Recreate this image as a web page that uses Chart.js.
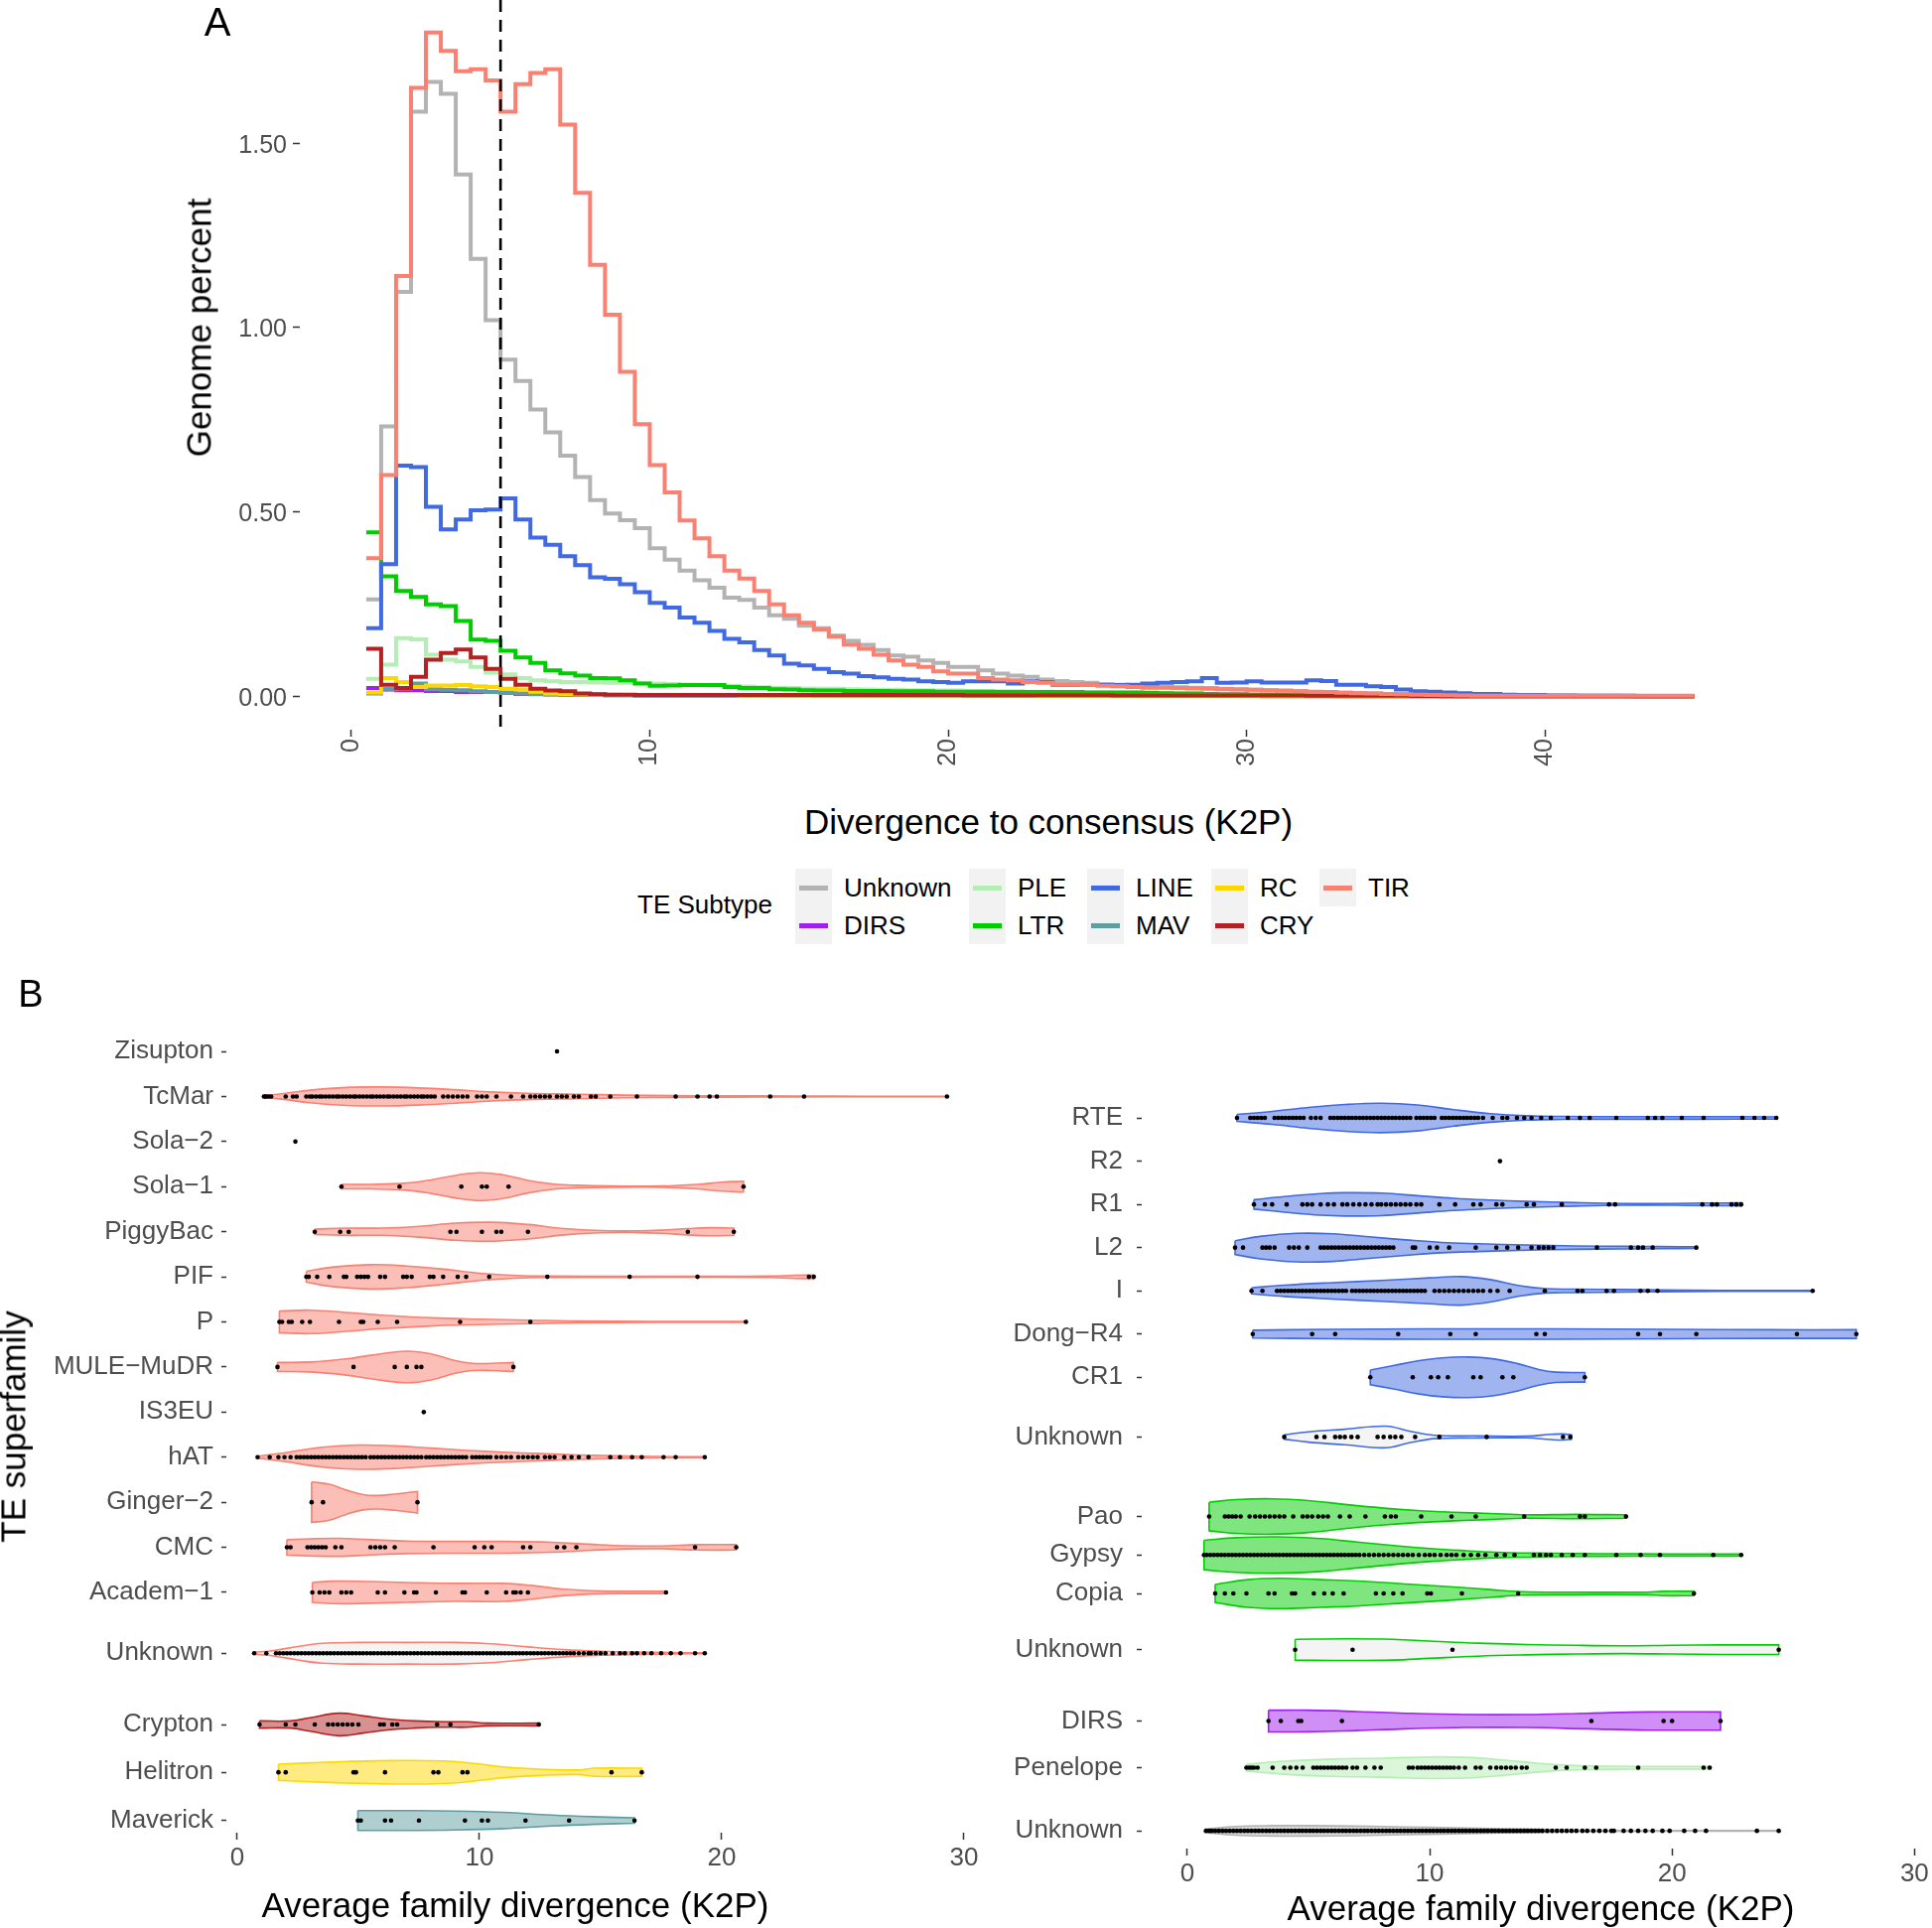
<!DOCTYPE html>
<html>
<head>
<meta charset="utf-8">
<script src="https://cdn.jsdelivr.net/npm/chart.js@4.4.1/dist/chart.umd.min.js"></script>
<style>
  html, body { margin: 0; padding: 0; background: #fff; overflow: hidden; }
  body { width: 1946px; height: 1942px; position: relative; font-family: "Liberation Sans", Arial, Helvetica, sans-serif; }
  canvas { position: absolute; }
  .txt { position: absolute; white-space: nowrap; line-height: 1; color: #000; transform: translate(-50%, -50%); }
  .rot { transform: translate(-50%, -50%) rotate(-90deg); }
  .key { position: absolute; width: 37px; height: 38px; background: #f2f2f2; }
  .key span { position: absolute; left: 4px; right: 4px; top: 16.5px; height: 5px; }
  .keylab { position: absolute; font-size: 26px; line-height: 1; color: #000; transform: translateY(-50%); white-space: nowrap; }
</style>
</head>
<body>
<canvas id="histChart" width="1946" height="820" style="left:0;top:-30px"></canvas>
<canvas id="leftChart" width="1000" height="952" style="left:0;top:990px"></canvas>
<canvas id="rightChart" width="1000" height="882" style="left:1000px;top:1060px"></canvas>

<div class="txt" style="left:219px;top:22px;font-size:40px">A</div>
<div class="txt rot" style="left:200px;top:330px;font-size:35px">Genome percent</div>
<div class="txt" style="left:1056px;top:827px;font-size:35px">Divergence to consensus (K2P)</div>
<div class="txt" style="left:710px;top:911px;font-size:26px">TE Subtype</div>
<div id="legend"></div>
<div class="txt" style="left:31px;top:1001px;font-size:38px">B</div>
<div class="txt rot" style="left:13px;top:1437px;font-size:35px">TE superfamily</div>
<div class="txt" style="left:519px;top:1918px;font-size:35px">Average family divergence (K2P)</div>
<div class="txt" style="left:1552px;top:1921px;font-size:35px">Average family divergence (K2P)</div>

<script>
// ---------- panel A: repeat landscape (genome percent per 0.5 K2P bin) ----------
const subtypes = ['Unknown', 'DIRS', 'PLE', 'LTR', 'LINE', 'MAV', 'RC', 'CRY', 'TIR'];
const subtypeColors = ['#b3b3b3', '#a020f0', '#b4eeb4', '#00cd00', '#4169e1', '#5f9ea0', '#ffd700', '#b22222', '#fa8072'];
const histXTicks = [0, 10, 20, 30, 40];
const histYTicks = [0, 0.5, 1, 1.5];
const divergenceCutoff = 5;
const bins = Array.from({ length: 90 }, (_, i) => (i + 1) * 0.5);

const unknownPct = [
  0.263, 0.732, 1.097, 1.585, 1.666, 1.634, 1.415, 1.186, 1.020, 0.913,
  0.855, 0.778, 0.716, 0.653, 0.595, 0.532, 0.496, 0.478, 0.456, 0.402,
  0.371, 0.341, 0.315, 0.295, 0.268, 0.262, 0.241, 0.220, 0.211, 0.192,
  0.185, 0.165, 0.151, 0.140, 0.126, 0.111, 0.108, 0.098, 0.091, 0.080,
  0.080, 0.071, 0.062, 0.057, 0.053, 0.046, 0.042, 0.039, 0.037, 0.034,
  0.032, 0.030, 0.028, 0.026, 0.025, 0.024, 0.023, 0.021, 0.020, 0.018,
  0.016, 0.015, 0.014, 0.012, 0.011, 0.010, 0.009, 0.008, 0.007, 0.006,
  0.005, 0.004, 0.004, 0.003, 0.002, 0.002, 0.002, 0.002, 0.002, 0.002,
  0.002, 0.002, 0.002, 0.002, 0.001, 0.001, 0.001, 0.001, 0.001, 0.001
];
const dirsPct = [
  0.023, 0.019, 0.017, 0.017, 0.015, 0.015, 0.012, 0.012, 0.012, 0.010,
  0.007, 0.007, 0.007, 0.007, 0.005, 0.005, 0.004, 0.004, 0.003, 0.003,
  0.003, 0.003, 0.003, 0.003, 0.003, 0.003, 0.003, 0.003, 0.003, 0.003,
  0.002, 0.002, 0.002, 0.002, 0.002, 0.002, 0.002, 0.002, 0.002, 0.002,
  0.002, 0.002, 0.002, 0.002, 0.002, 0.002, 0.002, 0.002, 0.002, 0.002,
  0.002, 0.002, 0.002, 0.002, 0.002, 0.002, 0.002, 0.002, 0.002, 0.002,
  0.001, 0.001, 0.001, 0.001, 0.001, 0.001, 0.001, 0.001, 0.001, 0.001,
  0.001, 0.001, 0.001, 0.001, 0.001, 0.001, 0.001, 0.001, 0.001, 0.001,
  0.001, 0.001, 0.001, 0.001, 0.001, 0.001, 0.001, 0.001, 0.001, 0.001
];
const plePct = [
  0.048, 0.086, 0.158, 0.155, 0.113, 0.100, 0.095, 0.080, 0.065, 0.060,
  0.050, 0.044, 0.041, 0.039, 0.039, 0.038, 0.037, 0.037, 0.036, 0.035,
  0.034, 0.032, 0.031, 0.030, 0.029, 0.027, 0.025, 0.024, 0.023, 0.022,
  0.021, 0.021, 0.020, 0.019, 0.018, 0.018, 0.017, 0.017, 0.016, 0.016,
  0.015, 0.015, 0.014, 0.014, 0.013, 0.013, 0.012, 0.012, 0.011, 0.011,
  0.010, 0.010, 0.009, 0.009, 0.008, 0.008, 0.007, 0.007, 0.006, 0.006,
  0.005, 0.005, 0.005, 0.004, 0.004, 0.004, 0.003, 0.003, 0.003, 0.003,
  0.002, 0.002, 0.002, 0.002, 0.002, 0.002, 0.002, 0.002, 0.002, 0.002,
  0.001, 0.001, 0.001, 0.001, 0.001, 0.001, 0.001, 0.001, 0.001, 0.001
];
const ltrPct = [
  0.445, 0.326, 0.286, 0.270, 0.250, 0.245, 0.205, 0.154, 0.151, 0.124,
  0.106, 0.091, 0.071, 0.063, 0.057, 0.050, 0.049, 0.044, 0.035, 0.029,
  0.030, 0.031, 0.031, 0.031, 0.026, 0.023, 0.023, 0.020, 0.019, 0.017,
  0.016, 0.016, 0.015, 0.015, 0.015, 0.014, 0.014, 0.014, 0.013, 0.013,
  0.013, 0.013, 0.012, 0.012, 0.012, 0.012, 0.012, 0.012, 0.011, 0.011,
  0.011, 0.011, 0.010, 0.009, 0.008, 0.008, 0.007, 0.006, 0.006, 0.005,
  0.005, 0.004, 0.004, 0.003, 0.003, 0.003, 0.002, 0.002, 0.002, 0.002,
  0.002, 0.002, 0.002, 0.001, 0.001, 0.001, 0.001, 0.001, 0.001, 0.001,
  0.001, 0.001, 0.001, 0.001, 0.001, 0.001, 0.001, 0.001, 0.001, 0.001
];
const linePct = [
  0.185, 0.359, 0.626, 0.622, 0.514, 0.453, 0.480, 0.505, 0.507, 0.537,
  0.480, 0.431, 0.411, 0.380, 0.356, 0.323, 0.319, 0.304, 0.283, 0.254,
  0.241, 0.214, 0.200, 0.178, 0.156, 0.147, 0.126, 0.111, 0.089, 0.084,
  0.075, 0.066, 0.062, 0.055, 0.052, 0.048, 0.046, 0.041, 0.039, 0.037,
  0.041, 0.041, 0.041, 0.035, 0.041, 0.039, 0.031, 0.031, 0.032, 0.031,
  0.031, 0.032, 0.035, 0.037, 0.039, 0.041, 0.050, 0.037, 0.038, 0.041,
  0.038, 0.038, 0.038, 0.044, 0.042, 0.032, 0.032, 0.028, 0.026, 0.019,
  0.014, 0.013, 0.011, 0.009, 0.007, 0.007, 0.005, 0.004, 0.004, 0.003,
  0.003, 0.002, 0.002, 0.002, 0.002, 0.001, 0.001, 0.001, 0.001, 0.001
];
const mavPct = [
  0.008, 0.020, 0.022, 0.035, 0.020, 0.018, 0.017, 0.014, 0.012, 0.010,
  0.008, 0.006, 0.005, 0.004, 0.004, 0.004, 0.003, 0.003, 0.003, 0.003,
  0.003, 0.003, 0.003, 0.003, 0.003, 0.003, 0.003, 0.003, 0.003, 0.003,
  0.002, 0.002, 0.002, 0.002, 0.002, 0.002, 0.002, 0.002, 0.002, 0.002,
  0.002, 0.002, 0.002, 0.002, 0.002, 0.002, 0.002, 0.002, 0.002, 0.002,
  0.002, 0.002, 0.002, 0.002, 0.002, 0.002, 0.002, 0.002, 0.002, 0.002,
  0.002, 0.002, 0.002, 0.002, 0.002, 0.001, 0.001, 0.001, 0.001, 0.001,
  0.001, 0.001, 0.001, 0.001, 0.001, 0.001, 0.001, 0.001, 0.001, 0.001,
  0.001, 0.001, 0.001, 0.001, 0.001, 0.001, 0.001, 0.001, 0.001, 0.001
];
const rcPct = [
  0.011, 0.050, 0.039, 0.026, 0.030, 0.030, 0.031, 0.028, 0.026, 0.021,
  0.019, 0.013, 0.008, 0.007, 0.006, 0.005, 0.005, 0.004, 0.004, 0.004,
  0.004, 0.004, 0.004, 0.004, 0.004, 0.003, 0.003, 0.003, 0.003, 0.003,
  0.003, 0.003, 0.003, 0.003, 0.003, 0.003, 0.003, 0.003, 0.003, 0.003,
  0.003, 0.003, 0.003, 0.003, 0.003, 0.002, 0.002, 0.002, 0.002, 0.002,
  0.002, 0.002, 0.002, 0.002, 0.002, 0.002, 0.002, 0.002, 0.002, 0.002,
  0.002, 0.002, 0.002, 0.002, 0.002, 0.001, 0.001, 0.001, 0.001, 0.001,
  0.001, 0.001, 0.001, 0.001, 0.001, 0.001, 0.001, 0.001, 0.001, 0.001,
  0.001, 0.001, 0.001, 0.001, 0.001, 0.001, 0.001, 0.001, 0.001, 0.001
];
const cryPct = [
  0.129, 0.032, 0.023, 0.053, 0.100, 0.118, 0.127, 0.106, 0.075, 0.048,
  0.032, 0.021, 0.016, 0.014, 0.008, 0.006, 0.005, 0.005, 0.004, 0.004,
  0.004, 0.004, 0.004, 0.004, 0.004, 0.004, 0.004, 0.004, 0.004, 0.004,
  0.004, 0.004, 0.004, 0.004, 0.004, 0.004, 0.004, 0.004, 0.004, 0.004,
  0.0035, 0.0035, 0.0035, 0.0035, 0.0035, 0.0035, 0.0035, 0.0035, 0.0035, 0.0035,
  0.003, 0.003, 0.003, 0.003, 0.003, 0.003, 0.003, 0.003, 0.003, 0.003,
  0.003, 0.003, 0.003, 0.0025, 0.0025, 0.002, 0.002, 0.002, 0.002, 0.002,
  0.0015, 0.0015, 0.001, 0.001, 0.001, 0.001, 0.001, 0.001, 0.001, 0.001,
  0.001, 0.001, 0.001, 0.001, 0.001, 0.001, 0.001, 0.001, 0.001, 0.001
];
const tirPct = [
  0.375, 0.600, 1.140, 1.650, 1.800, 1.750, 1.695, 1.700, 1.670, 1.585,
  1.660, 1.690, 1.700, 1.550, 1.365, 1.170, 1.035, 0.880, 0.738, 0.627,
  0.553, 0.477, 0.429, 0.380, 0.341, 0.320, 0.286, 0.250, 0.220, 0.200,
  0.181, 0.162, 0.141, 0.129, 0.113, 0.098, 0.086, 0.080, 0.068, 0.062,
  0.062, 0.050, 0.046, 0.044, 0.039, 0.037, 0.032, 0.032, 0.031, 0.029,
  0.028, 0.026, 0.024, 0.024, 0.023, 0.022, 0.021, 0.020, 0.019, 0.018,
  0.017, 0.016, 0.014, 0.013, 0.012, 0.010, 0.009, 0.008, 0.007, 0.006,
  0.005, 0.004, 0.0035, 0.003, 0.002, 0.002, 0.002, 0.002, 0.002, 0.002,
  0.002, 0.002, 0.002, 0.002, 0.002, 0.002, 0.002, 0.002, 0.002, 0.002
];
const histSeries = [unknownPct, dirsPct, plePct, ltrPct, linePct, mavPct, rcPct, cryPct, tirPct];

// ---------- panel B: average family divergence per superfamily ----------
const leftNames = ['Zisupton', 'TcMar', 'Sola−2', 'Sola−1', 'PiggyBac', 'PIF', 'P', 'MULE−MuDR', 'IS3EU',
  'hAT', 'Ginger−2', 'CMC', 'Academ−1', 'Unknown', 'Crypton', 'Helitron', 'Maverick'];
const leftClass = ['TIR', 'TIR', 'TIR', 'TIR', 'TIR', 'TIR', 'TIR', 'TIR', 'TIR', 'TIR', 'TIR', 'TIR', 'TIR',
  'TIR', 'CRY', 'RC', 'MAV'];
const leftDots = [
  [13.2],
  [1.1, 1.15, 1.2, 1.3, 1.4, 2.0, 2.3, 2.45, 2.85, 3.0, 3.1, 3.25, 3.4, 3.5, 3.65, 3.8, 3.95, 4.1, 4.2, 4.35,
   4.5, 4.65, 4.8, 4.9, 5.05, 5.2, 5.35, 5.5, 5.6, 5.75, 5.9, 6.05, 6.2, 6.3, 6.45, 6.6, 6.75, 6.9, 7.0, 7.15,
   7.3, 7.45, 7.6, 7.7, 7.85, 8.0, 8.15, 8.5, 8.7, 8.9, 9.1, 9.3, 9.5, 9.9, 10.1, 10.3, 10.7, 11.3, 11.8,
   12.1, 12.3, 12.5, 12.7, 12.9, 13.2, 13.4, 13.6, 13.9, 14.1, 14.6, 14.8, 15.4, 16.5, 18.1, 19.0, 19.5,
   19.8, 22.0, 23.4, 29.3],
  [2.4],
  [4.3, 6.7, 9.25, 10.1, 10.3, 11.2, 20.9],
  [3.2, 4.25, 4.6, 8.8, 9.05, 10.1, 10.7, 10.9, 12.0, 18.6, 20.5],
  [2.85, 2.95, 3.3, 3.8, 4.4, 4.5, 4.95, 5.1, 5.25, 5.4, 5.9, 6.1, 6.85, 7.0, 7.2, 7.95, 8.1, 8.5, 9.1, 9.45,
   10.4, 12.8, 16.2, 19.0, 23.6, 23.8],
  [1.74, 1.85, 2.13, 2.25, 2.68, 3.0, 4.2, 5.1, 5.2, 5.8, 6.6, 9.2, 12.1, 21.0],
  [1.66, 4.8, 6.5, 7.0, 7.4, 7.6, 11.4],
  [7.7],
  [0.84, 1.34, 1.7, 1.95, 2.2, 2.45, 2.6, 2.75, 2.9, 3.05, 3.2, 3.35, 3.5, 3.65, 3.8, 3.95, 4.1, 4.25, 4.4,
   4.55, 4.7, 4.85, 5.0, 5.15, 5.3, 5.5, 5.65, 5.8, 5.95, 6.1, 6.25, 6.4, 6.55, 6.7, 6.85, 7.0, 7.15, 7.3,
   7.45, 7.6, 7.8, 7.95, 8.1, 8.25, 8.4, 8.55, 8.7, 8.85, 9.0, 9.15, 9.3, 9.45, 9.7, 9.85, 10.0, 10.15,
   10.3, 10.45, 10.7, 10.9, 11.1, 11.3, 11.6, 11.8, 12.0, 12.2, 12.4, 12.7, 12.9, 13.1, 13.5, 13.8, 14.1,
   14.5, 15.4, 15.8, 16.3, 16.7, 17.6, 18.1, 19.3],
  [3.07, 3.54, 7.44],
  [2.05, 2.2, 2.9, 3.05, 3.2, 3.35, 3.5, 3.65, 4.05, 4.3, 5.5, 5.7, 5.9, 6.1, 6.5, 8.1, 9.8, 10.2, 10.5,
   11.8, 12.1, 13.2, 13.5, 14.0, 18.9, 20.6],
  [3.1, 3.4, 3.6, 3.8, 4.3, 4.5, 4.7, 5.8, 6.1, 6.9, 7.3, 7.4, 8.2, 9.3, 9.4, 10.3, 11.1, 11.4, 11.5, 11.7,
   12.0, 17.7],
  [0.7, 1.2, 1.6, 1.75, 1.9, 2.05, 2.2, 2.35, 2.5, 2.65, 2.8, 2.95, 3.1, 3.25, 3.4, 3.55, 3.7, 3.85, 4.0,
   4.15, 4.3, 4.45, 4.6, 4.75, 4.9, 5.05, 5.2, 5.35, 5.5, 5.65, 5.8, 5.95, 6.1, 6.25, 6.4, 6.55, 6.7, 6.85,
   7.0, 7.15, 7.3, 7.45, 7.6, 7.75, 7.9, 8.05, 8.2, 8.35, 8.5, 8.65, 8.8, 8.95, 9.1, 9.25, 9.4, 9.55, 9.7,
   9.85, 10.0, 10.15, 10.3, 10.45, 10.6, 10.75, 10.9, 11.05, 11.2, 11.35, 11.5, 11.65, 11.8, 11.95, 12.1,
   12.25, 12.4, 12.55, 12.7, 12.85, 13.0, 13.15, 13.3, 13.45, 13.6, 13.75, 13.9, 14.1, 14.3, 14.5, 14.6,
   14.8, 15.0, 15.2, 15.5, 15.8, 16.0, 16.3, 16.5, 16.8, 17.1, 17.5, 17.9, 18.3, 18.9, 19.3],
  [0.92, 2.0, 2.4, 3.2, 3.75, 3.95, 4.15, 4.35, 4.55, 4.75, 5.0, 5.9, 6.05, 6.4, 6.6, 8.25, 8.8, 12.45],
  [1.7, 2.0, 4.8, 4.9, 6.1, 8.1, 8.3, 9.3, 9.5, 15.45, 16.7],
  [4.98, 5.1, 6.1, 6.35, 7.5, 9.4, 10.1, 10.35, 11.9, 13.7, 16.4]
];
// violin outlines: [divergence, half width in rows]
const leftViolins = [
  [],
  [[1.1, 0.02], [2, 0.07], [3, 0.14], [4.5, 0.2], [6, 0.21], [7.5, 0.19], [9, 0.15], [10.5, 0.1], [12, 0.07],
   [14, 0.05], [16, 0.03], [18, 0.02], [20, 0.015], [23, 0.01], [26, 0.006], [29.3, 0.006]],
  [],
  [[4.3, 0.05], [5.5, 0.05], [7, 0.08], [8, 0.15], [9, 0.25], [10, 0.31], [11, 0.26], [12, 0.14], [13, 0.06],
   [14, 0.03], [15.5, 0.015], [17.5, 0.015], [19, 0.05], [20, 0.1], [20.9, 0.12]],
  [[3.2, 0.06], [4.5, 0.08], [6, 0.08], [7.5, 0.12], [9, 0.19], [10.5, 0.21], [12, 0.16], [13.5, 0.07],
   [15, 0.025], [16.5, 0.02], [17.5, 0.035], [18.6, 0.07], [19.5, 0.09], [20.5, 0.08]],
  [[2.85, 0.12], [4, 0.22], [5.5, 0.27], [7, 0.24], [8.5, 0.17], [10, 0.08], [11.5, 0.03], [13, 0.015],
   [16, 0.012], [19, 0.01], [22, 0.015], [23, 0.035], [23.8, 0.04]],
  [[1.74, 0.24], [3, 0.26], [4.5, 0.21], [6, 0.15], [8, 0.09], [10, 0.06], [12, 0.04], [14, 0.02],
   [17, 0.012], [19.5, 0.01], [21, 0.012]],
  [[1.66, 0.1], [3, 0.11], [4.5, 0.18], [5.5, 0.26], [7, 0.35], [8, 0.29], [9, 0.14], [9.7, 0.08],
   [10.5, 0.08], [11.4, 0.1]],
  [],
  [[0.84, 0.02], [2, 0.1], [3.5, 0.22], [5, 0.27], [6.5, 0.25], [8, 0.2], [9.5, 0.15], [11, 0.11],
   [12.5, 0.08], [14, 0.05], [16, 0.025], [18, 0.012], [19.3, 0.008]],
  [[3.07, 0.45], [3.8, 0.4], [4.5, 0.27], [5.2, 0.17], [5.8, 0.15], [6.5, 0.18], [7.44, 0.24]],
  [[2.05, 0.17], [3, 0.19], [4.2, 0.2], [5.5, 0.17], [7, 0.14], [9, 0.13], [11, 0.13], [13, 0.11],
   [14.5, 0.07], [16, 0.035], [17.5, 0.03], [19, 0.06], [20.6, 0.06]],
  [[3.1, 0.22], [4, 0.25], [5.5, 0.24], [7, 0.22], [9, 0.2], [11, 0.2], [12.2, 0.15], [13.5, 0.07],
   [15, 0.03], [16.5, 0.025], [17.7, 0.025]],
  [[0.7, 0.02], [1.5, 0.06], [2.5, 0.15], [3.5, 0.22], [5, 0.24], [7, 0.24], [9, 0.24], [10.5, 0.21],
   [12, 0.14], [13.5, 0.08], [15, 0.045], [16.5, 0.025], [18, 0.015], [19.3, 0.01]],
  [[0.92, 0.08], [2.2, 0.08], [3, 0.15], [4.2, 0.25], [5.2, 0.19], [6.2, 0.12], [7.3, 0.08], [8.5, 0.06],
   [9.5, 0.06], [10.3, 0.03], [12.45, 0.03]],
  [[1.7, 0.18], [3, 0.21], [4.5, 0.24], [6.5, 0.26], [8.5, 0.25], [9.7, 0.2], [11, 0.12], [12.5, 0.07],
   [14, 0.05], [14.8, 0.09], [16.7, 0.09]],
  [[4.98, 0.22], [7, 0.22], [9, 0.21], [11, 0.18], [13, 0.12], [15, 0.08], [16.4, 0.06]]
];

const rightNames = ['RTE', 'R2', 'R1', 'L2', 'I', 'Dong−R4', 'CR1', 'Unknown', 'Pao', 'Gypsy', 'Copia',
  'Unknown', 'DIRS', 'Penelope', 'Unknown'];
const rightClass = ['LINE', 'LINE', 'LINE', 'LINE', 'LINE', 'LINE', 'LINE', 'LINE', 'LTR', 'LTR', 'LTR',
  'LTR', 'DIRS', 'PLE', 'Unknown'];
const rightDots = [
  [2.05, 2.6, 2.75, 2.9, 3.05, 3.2, 3.6, 3.75, 3.9, 4.05, 4.2, 4.35, 4.5, 4.65, 4.8, 5.1, 5.3, 5.5, 5.9,
   6.05, 6.2, 6.35, 6.5, 6.65, 6.8, 6.95, 7.1, 7.25, 7.4, 7.55, 7.7, 7.85, 8.0, 8.15, 8.3, 8.45, 8.6, 8.75,
   8.9, 9.05, 9.2, 9.45, 9.6, 9.75, 9.9, 10.05, 10.2, 10.5, 10.65, 10.8, 10.95, 11.1, 11.25, 11.4, 11.55,
   11.7, 11.85, 12.0, 12.2, 12.6, 13.0, 13.2, 13.6, 13.9, 14.2, 14.6, 15.0, 15.7, 16.2, 16.6, 17.7, 19.0,
   19.3, 19.6, 20.4, 21.3, 22.9, 23.4, 23.8, 24.3],
  [12.9],
  [2.75, 3.2, 3.5, 4.1, 4.75, 4.95, 5.15, 5.5, 5.8, 6.05, 6.4, 6.6, 6.85, 7.1, 7.35, 7.6, 7.85, 8.0, 8.2,
   8.4, 8.6, 8.8, 9.0, 9.2, 9.45, 9.65, 10.4, 11.05, 11.8, 12.1, 12.75, 13.0, 14.0, 14.3, 15.45, 17.4,
   17.65, 21.25, 21.65, 21.85, 22.45, 22.65, 22.85],
  [1.97, 2.3, 3.1, 3.25, 3.4, 3.6, 4.2, 4.4, 4.6, 4.95, 5.5, 5.65, 5.8, 5.95, 6.1, 6.25, 6.4, 6.55, 6.7,
   6.85, 7.0, 7.15, 7.3, 7.45, 7.6, 7.75, 7.9, 8.05, 8.2, 8.35, 8.5, 9.3, 9.4, 10.0, 10.3, 10.8, 11.9,
   12.75, 13.2, 13.65, 14.2, 14.5, 14.7, 14.9, 15.1, 16.9, 18.3, 18.6, 18.8, 19.2, 21.0],
  [2.65, 3.1, 3.7, 3.85, 4.0, 4.15, 4.3, 4.45, 4.6, 4.75, 4.9, 5.05, 5.2, 5.35, 5.5, 5.65, 5.8, 5.95, 6.1,
   6.25, 6.4, 6.55, 6.8, 6.95, 7.1, 7.25, 7.4, 7.55, 7.7, 7.85, 8.0, 8.15, 8.3, 8.45, 8.6, 8.75, 8.9, 9.05,
   9.2, 9.35, 9.5, 9.65, 9.8, 10.2, 10.4, 10.6, 10.8, 11.0, 11.2, 11.4, 11.6, 11.8, 12.0, 12.2, 12.5,
   12.8, 13.3, 14.75, 16.1, 16.3, 17.3, 17.6, 18.7, 19.0, 19.4, 25.8],
  [2.7, 5.15, 6.1, 8.7, 10.85, 11.9, 14.4, 14.75, 18.6, 19.5, 21.0, 25.15, 27.6],
  [7.55, 9.3, 10.05, 10.35, 10.75, 11.8, 12.1, 13.0, 13.45, 16.4],
  [4.0, 5.33, 5.66, 6.1, 6.3, 6.5, 6.77, 7.03, 7.85, 8.1, 8.37, 8.58, 8.83, 9.4, 10.4, 12.35, 15.5, 15.8],
  [0.9, 1.55, 1.7, 1.85, 2.0, 2.2, 2.57, 2.8, 3.0, 3.2, 3.4, 3.6, 3.8, 4.0, 4.37, 4.76, 4.95, 5.15, 5.4,
   5.6, 5.8, 6.3, 6.7, 7.35, 8.15, 8.4, 8.6, 9.65, 10.9, 11.9, 13.9, 16.2, 16.4, 18.1],
  [0.69, 0.8, 0.95, 1.1, 1.25, 1.4, 1.55, 1.7, 1.85, 2.0, 2.15, 2.3, 2.45, 2.6, 2.75, 2.9, 3.05, 3.2, 3.35,
   3.5, 3.65, 3.8, 3.95, 4.1, 4.25, 4.4, 4.55, 4.7, 4.85, 5.0, 5.15, 5.3, 5.45, 5.6, 5.75, 5.9, 6.05, 6.2,
   6.35, 6.5, 6.65, 6.8, 6.95, 7.1, 7.3, 7.5, 7.7, 7.9, 8.1, 8.3, 8.5, 8.7, 8.9, 9.1, 9.3, 9.55, 9.8,
   10.0, 10.2, 10.45, 10.7, 10.9, 11.1, 11.4, 11.7, 12.0, 12.3, 12.75, 13.1, 13.5, 14.3, 14.55, 14.8,
   15.0, 15.45, 15.9, 16.4, 17.7, 18.7, 19.5, 21.7, 22.85],
  [1.15, 1.55, 1.9, 2.44, 3.35, 3.6, 4.32, 4.45, 5.22, 5.65, 6.0, 6.45, 7.78, 8.1, 8.5, 8.88, 9.9, 10.05,
   11.33, 13.65, 20.9],
  [4.45, 6.82, 10.94, 24.4],
  [3.35, 3.86, 4.58, 4.7, 6.38, 16.67, 19.65, 20.0, 22.0],
  [2.44, 2.55, 2.65, 2.75, 2.9, 3.52, 4.0, 4.25, 4.5, 4.76, 5.2, 5.35, 5.5, 5.65, 5.8, 5.95, 6.1, 6.25,
   6.4, 6.56, 6.82, 7.0, 7.35, 7.72, 7.98, 9.14, 9.3, 9.5, 9.65, 9.8, 9.95, 10.1, 10.25, 10.4, 10.55, 10.7,
   10.85, 11.0, 11.2, 11.46, 11.9, 12.1, 12.5, 12.75, 12.95, 13.15, 13.35, 13.55, 13.8, 14.0, 15.2, 15.65,
   16.4, 16.87, 18.6, 21.3, 21.55],
  [0.77, 0.9, 1.0, 1.15, 1.3, 1.45, 1.6, 1.75, 1.9, 2.05, 2.2, 2.35, 2.5, 2.65, 2.8, 2.95, 3.1, 3.25, 3.4,
   3.55, 3.7, 3.85, 4.0, 4.15, 4.3, 4.45, 4.6, 4.75, 4.9, 5.05, 5.2, 5.35, 5.5, 5.65, 5.8, 5.95, 6.1, 6.25,
   6.4, 6.55, 6.7, 6.85, 7.0, 7.15, 7.3, 7.45, 7.6, 7.75, 7.9, 8.05, 8.2, 8.35, 8.5, 8.65, 8.8, 8.95, 9.1,
   9.25, 9.4, 9.55, 9.7, 9.85, 10.0, 10.15, 10.3, 10.45, 10.6, 10.75, 10.9, 11.05, 11.2, 11.35, 11.5,
   11.65, 11.8, 11.95, 12.1, 12.25, 12.4, 12.55, 12.7, 12.85, 13.0, 13.15, 13.3, 13.45, 13.6, 13.75, 13.9,
   14.05, 14.2, 14.35, 14.5, 14.65, 14.85, 15.05, 15.25, 15.45, 15.65, 15.85, 16.05, 16.3, 16.5, 16.75,
   17.0, 17.25, 17.5, 17.6, 18.0, 18.3, 18.6, 18.9, 19.2, 19.6, 19.9, 20.5, 20.95, 21.4, 23.5, 24.4]
];
const rightViolins = [
  [[2.05, 0.08], [3.5, 0.15], [5, 0.24], [6.5, 0.31], [8, 0.34], [9.5, 0.3], [11, 0.19], [12.5, 0.1],
   [14, 0.05], [15.5, 0.035], [18, 0.03], [21, 0.03], [24.3, 0.025]],
  [],
  [[2.75, 0.11], [4, 0.18], [5.5, 0.25], [6.5, 0.27], [8, 0.26], [9.5, 0.2], [11, 0.14], [12.5, 0.1],
   [14, 0.07], [16, 0.04], [18, 0.02], [20, 0.02], [21.5, 0.03], [22.85, 0.035]],
  [[1.97, 0.16], [3, 0.26], [4.5, 0.33], [6, 0.32], [7.5, 0.25], [9, 0.18], [10.5, 0.12], [12, 0.09],
   [14, 0.06], [16, 0.04], [18, 0.03], [19.5, 0.025], [21, 0.02]],
  [[2.65, 0.07], [4, 0.13], [6, 0.19], [8, 0.24], [10, 0.3], [11.3, 0.33], [12.5, 0.26], [13.7, 0.12],
   [14.8, 0.05], [16, 0.04], [18, 0.03], [19.5, 0.02], [22, 0.012], [25.8, 0.01]],
  [[2.7, 0.09], [6, 0.11], [10, 0.12], [15, 0.12], [20, 0.11], [24, 0.1], [27.6, 0.1]],
  [[7.55, 0.17], [8.5, 0.27], [9.5, 0.38], [10.5, 0.45], [11.6, 0.47], [12.6, 0.43], [13.6, 0.32],
   [14.5, 0.18], [15.2, 0.12], [16.4, 0.11]],
  [[4.0, 0.05], [5, 0.12], [6.5, 0.18], [8.2, 0.25], [9.2, 0.13], [10.2, 0.04], [12, 0.025], [14, 0.02],
   [15, 0.06], [15.5, 0.07], [15.85, 0.05]],
  [[0.9, 0.33], [2, 0.39], [3.5, 0.41], [5, 0.37], [6.5, 0.28], [8, 0.2], [9.5, 0.14], [11, 0.1],
   [12.5, 0.07], [14, 0.04], [16, 0.05], [18.1, 0.04]],
  [[0.69, 0.34], [2, 0.4], [3.7, 0.42], [5.5, 0.38], [7, 0.3], [8.5, 0.22], [10, 0.15], [11.5, 0.1],
   [13, 0.06], [15, 0.04], [17, 0.03], [20, 0.025], [22.85, 0.025]],
  [[1.15, 0.21], [2.5, 0.32], [3.8, 0.35], [5.5, 0.32], [7, 0.29], [9, 0.22], [11, 0.15], [12.5, 0.09],
   [13.8, 0.04], [16, 0.03], [19, 0.03], [19.6, 0.05], [20.9, 0.05]],
  [[4.45, 0.24], [6.5, 0.25], [8.5, 0.24], [10, 0.2], [12, 0.15], [14, 0.12], [16, 0.1], [18, 0.09],
   [20, 0.1], [22, 0.11], [24.4, 0.11]],
  [[3.35, 0.25], [5, 0.25], [7, 0.22], [9, 0.18], [11.5, 0.15], [14, 0.15], [16.5, 0.18], [19, 0.21],
   [22, 0.21]],
  [[2.44, 0.08], [4, 0.15], [6, 0.2], [8, 0.22], [10, 0.25], [11.5, 0.24], [13, 0.18], [14.5, 0.1],
   [16, 0.05], [17.5, 0.035], [19, 0.03], [21.6, 0.03]],
  [[0.77, 0.04], [2, 0.1], [3.5, 0.12], [5, 0.12], [7, 0.11], [9, 0.09], [11, 0.07], [13, 0.05],
   [15, 0.03], [17, 0.015], [20, 0.008], [24.4, 0.006]]
];
const violinXTicks = [0, 10, 20, 30];

// row layout (facet groups and the gaps between them)
const leftGroup = [0, 0, 0, 0, 0, 0, 0, 0, 0, 0, 0, 0, 0, 1, 2, 3, 4];
const leftGroupGap = [0, 0.35, 0.58, 0.06, 0.07];
const leftGroupStep = [1, 1, 1, 1, 1];
const rightGroup = [0, 0, 0, 0, 0, 0, 0, 1, 2, 2, 2, 3, 4, 5, 6];
const rightGroupGap = [0, 0.38, 0.84, 0.3, 0.65, 0.08, 0.46];
const rightGroupStep = [1, 1, 0.89, 1, 1, 1, 1];

const FONT = "'Liberation Sans', Arial, Helvetica, sans-serif";
Chart.defaults.font.family = FONT;
Chart.defaults.color = '#4d4d4d';

function fade(hex, a) {
    const n = parseInt(hex.slice(1), 16);
    return 'rgba(' + (n >> 16 & 255) + ',' + (n >> 8 & 255) + ',' + (n & 255) + ',' + a + ')';
}

function colorOf(name) {
    return subtypeColors[subtypes.indexOf(name)];
}

function rowPositions(groups, gaps, steps) {
    const pos = [];
    groups.forEach((g, i) => {
        if (i === 0) pos.push(0);
        else if (g === groups[i - 1]) pos.push(pos[i - 1] + steps[g]);
        else pos.push(pos[i - 1] + 1 + gaps[g]);
    });
    return pos;
}

// closed outline, corners doubled so the spline keeps them sharp
function violinPath(knots, pos) {
    const top = knots.map(([x, w]) => ({ x: x, y: pos - w }));
    const bottom = knots.map(([x, w]) => ({ x: x, y: pos + w })).reverse();
    return [top[0], ...top, top[top.length - 1], ...bottom.slice(0, 1), ...bottom,
        bottom[bottom.length - 1], top[0], top[0]];
}

const tickGrid = { drawOnChartArea: false, drawTicks: true, tickLength: 6, tickColor: '#333333', tickWidth: 1.5 };

// ---------- legend ----------
const legendCols = [801, 976, 1095, 1220, 1329];
const legendRows = [875, 913];
const legendEl = document.getElementById('legend');
subtypes.forEach((name, k) => {
    const col = Math.floor(k / 2);
    const row = k % 2;
    const key = document.createElement('div');
    key.className = 'key';
    key.style.left = legendCols[col] + 'px';
    key.style.top = legendRows[row] + 'px';
    const bar = document.createElement('span');
    bar.style.background = subtypeColors[k];
    key.appendChild(bar);
    legendEl.appendChild(key);

    const lab = document.createElement('div');
    lab.className = 'keylab';
    lab.textContent = name;
    lab.style.left = (legendCols[col] + 49) + 'px';
    lab.style.top = (legendRows[row] + 19) + 'px';
    legendEl.appendChild(lab);
});

// ---------- panel A chart ----------
const cutoffLine = {
    id: 'cutoffLine',
    afterDatasetsDraw(chart) {
        const { ctx, chartArea, scales } = chart;
        const x = scales.x.getPixelForValue(divergenceCutoff);
        ctx.save();
        ctx.strokeStyle = '#000';
        ctx.lineWidth = 2.6;
        ctx.setLineDash([12, 8]);
        ctx.beginPath();
        ctx.moveTo(x, chartArea.top);
        ctx.lineTo(x, chartArea.bottom);
        ctx.stroke();
        ctx.restore();
    }
};

new Chart(document.getElementById('histChart'), {
    type: 'line',
    data: {
        datasets: histSeries.map((vals, k) => ({
            label: subtypes[k],
            data: vals.map((v, i) => ({ x: bins[i], y: v })),
            borderColor: subtypeColors[k],
            borderWidth: 4,
            pointRadius: 0,
            stepped: true,
            fill: false,
            order: histSeries.length - 1 - k
        }))
    },
    options: {
        responsive: false,
        animation: false,
        events: [],
        layout: { padding: { top: 30, right: 172.5, bottom: 0, left: 0 } },
        plugins: { legend: { display: false }, tooltip: { enabled: false } },
        scales: {
            x: {
                type: 'linear',
                min: -1.725,
                max: 47.225,
                afterBuildTicks: s => { s.ticks = histXTicks.map(v => ({ value: v })); },
                afterFit: s => { s.height = 55; },
                border: { display: false },
                grid: Object.assign({}, tickGrid, { tickLength: 7 }),
                ticks: { autoSkip: false, minRotation: 90, maxRotation: 90, padding: 2,
                    font: { size: 25 }, callback: v => String(v) }
            },
            y: {
                type: 'linear',
                min: -0.09,
                max: 1.888,
                afterBuildTicks: s => { s.ticks = histYTicks.map(v => ({ value: v })); },
                afterFit: s => { s.width = 302; },
                border: { display: false },
                grid: Object.assign({}, tickGrid, { tickLength: 7 }),
                ticks: { autoSkip: false, padding: 6, labelOffset: 2.5, font: { size: 25 },
                    callback: v => v.toFixed(2) }
            }
        }
    },
    plugins: [cutoffLine]
});

// ---------- panel B charts ----------
function violinChart(id, names, classes, dots, violins, pos, cfg) {
    const datasets = [];
    names.forEach((name, r) => {
        const shape = violins[r];
        if (!shape.length) return;
        const color = colorOf(classes[r]);
        const pale = name === 'Unknown' && classes[r] !== 'Unknown';
        datasets.push({
            type: 'line',
            data: violinPath(shape, pos[r]),
            borderColor: color,
            backgroundColor: pale ? '#f4f4f4' : fade(color, 0.5),
            borderWidth: 1.6,
            pointRadius: 0,
            tension: 0.4,
            fill: 'shape',
            order: 1
        });
    });
    datasets.push({
        type: 'scatter',
        data: dots.flatMap((vals, r) => vals.map(v => ({ x: v, y: pos[r] }))),
        pointRadius: 2.3,
        backgroundColor: '#000',
        borderWidth: 0,
        order: 0
    });

    new Chart(document.getElementById(id), {
        type: 'scatter',
        data: { datasets },
        options: {
            responsive: false,
            animation: false,
            events: [],
            layout: { padding: cfg.padding },
            plugins: { legend: { display: false }, tooltip: { enabled: false } },
            scales: {
                x: {
                    type: 'linear',
                    min: cfg.xMin,
                    max: cfg.xMax,
                    afterBuildTicks: s => { s.ticks = violinXTicks.map(v => ({ value: v })); },
                    afterFit: s => { s.height = cfg.axisHeight; },
                    border: { display: false },
                    grid: Object.assign({}, tickGrid, { tickLength: 7 }),
                    ticks: { autoSkip: false, maxRotation: 0, padding: 3, font: { size: 26 },
                        callback: v => String(v) }
                },
                y: {
                    type: 'linear',
                    reverse: true,
                    min: -0.6,
                    max: cfg.yMax,
                    afterBuildTicks: s => { s.ticks = pos.map(v => ({ value: v })); },
                    afterFit: s => { s.width = cfg.axisWidth; },
                    border: { display: false },
                    grid: Object.assign({}, tickGrid, { tickLength: 5 }),
                    ticks: { autoSkip: false, padding: cfg.labelPad, font: { size: 26 },
                        callback: (v, i) => names[i] }
                }
            }
        }
    });
}

violinChart('leftChart', leftNames, leftClass, leftDots, leftViolins,
    rowPositions(leftGroup, leftGroupGap, leftGroupStep),
    { padding: { top: 41.8, right: 12, bottom: 0, left: 0 }, xMin: -0.45, xMax: 30.7,
      yMax: 17.33, axisWidth: 228, axisHeight: 96, labelPad: 8 });

violinChart('rightChart', rightNames, rightClass, rightDots, rightViolins,
    rowPositions(rightGroup, rightGroupGap, rightGroupStep),
    { padding: { top: 39.9, right: 57, bottom: 0, left: 0 }, xMin: -1.88, xMax: 30.6,
      yMax: 16.9, axisWidth: 150, axisHeight: 80, labelPad: 14 });
</script>
</body>
</html>
